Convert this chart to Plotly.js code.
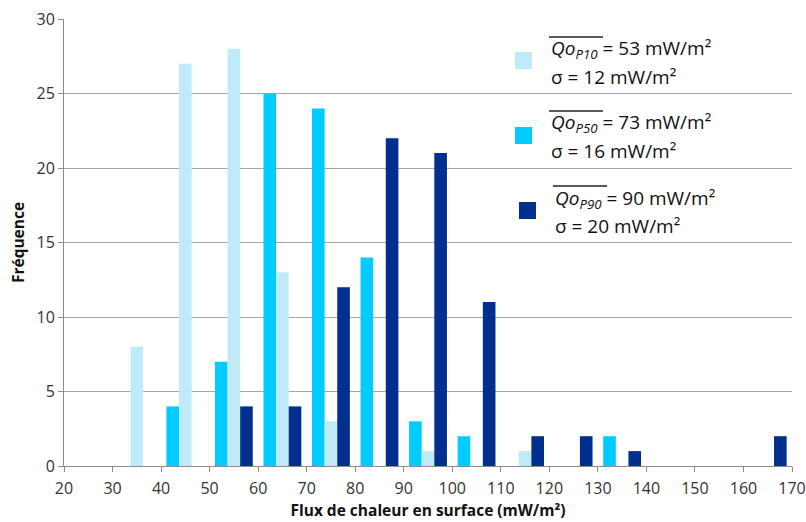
<!DOCTYPE html>
<html>
<head>
<meta charset="utf-8">
<script src="https://cdn.plot.ly/plotly-3.0.1.min.js"></script>
<style>html,body{margin:0;padding:0;background:#fff;}#chart{width:806px;height:522px;}</style>
</head>
<body>
<div id="chart"></div>
<script>
// Data
const bins = [35, 45, 55, 65, 75, 85, 95, 105, 115, 125, 135, 145, 155, 165];
const freqP10 = [8, 27, 28, 13, 3, 0, 1, 0, 1, 0, 0, 0, 0, 0];
const freqP50 = [0, 4, 7, 25, 24, 14, 3, 2, 0, 0, 2, 0, 0, 0];
const freqP90 = [0, 0, 4, 4, 12, 22, 21, 11, 2, 2, 1, 0, 0, 2];
const xTicks = [20, 30, 40, 50, 60, 70, 80, 90, 100, 110, 120, 130, 140, 150, 160, 170];
const yTicks = [0, 5, 10, 15, 20, 25, 30];
const legendEntries = [
  {sub: 'P10', mean: 53, sigma: 12},
  {sub: 'P50', mean: 73, sigma: 16},
  {sub: 'P90', mean: 90, sigma: 20}
];

const colP10 = '#BFEBF8';
const colP50 = '#00CCFF';
const colP90 = '#002F8E';

const W = 806, H = 522;
const M = {l: 64, r: 14, t: 19, b: 56};
const PW = W - M.l - M.r, PH = H - M.t - M.b;
const px = x => (x - M.l) / PW;
const py = y => (H - M.b - y) / PH;

const traces = [
  {type: 'bar', x: bins, y: freqP50, name: 'P50', marker: {color: colP50, line: {width: 0}}},
  {type: 'bar', x: bins, y: freqP10, name: 'P10', marker: {color: colP10, line: {width: 0}}},
  {type: 'bar', x: bins, y: freqP90, name: 'P90', marker: {color: colP90, line: {width: 0}}}
];

const legColors = [colP10, colP50, colP90];
const squares = [
  {x0: 515, y0: 52, size: 17},
  {x0: 515, y0: 127, size: 17},
  {x0: 519, y0: 202, size: 17}
];
const textX = [549, 549, 553];
const line1Y = [49, 123, 199];
const line2Y = [77, 151, 226];
const ovl = [[549, 603, 37], [549, 603, 111], [553, 607, 186]];

const shapes = [];
const annotations = [];
legendEntries.forEach((e, i) => {
  const s = squares[i];
  shapes.push({type: 'rect', xref: 'paper', yref: 'paper',
    x0: px(s.x0), x1: px(s.x0 + s.size), y0: py(s.y0 + s.size), y1: py(s.y0),
    fillcolor: legColors[i], line: {width: 0}});
  shapes.push({type: 'line', xref: 'paper', yref: 'paper',
    x0: px(ovl[i][0]), x1: px(ovl[i][1]), y0: py(ovl[i][2]), y1: py(ovl[i][2]),
    line: {color: '#222', width: 1.5}});
  annotations.push({xref: 'paper', yref: 'paper', x: px(textX[i]), y: py(line1Y[i]),
    xanchor: 'left', yanchor: 'middle', showarrow: false,
    text: '<i>Qo</i><sub><i>' + e.sub + '</i></sub> = ' + e.mean + ' mW/m²',
    font: {family: 'Open Sans', size: 19, color: '#111'}});
  annotations.push({xref: 'paper', yref: 'paper', x: px(textX[i]), y: py(line2Y[i]),
    xanchor: 'left', yanchor: 'middle', showarrow: false,
    text: 'σ = ' + e.sigma + ' mW/m²',
    font: {family: 'Open Sans', size: 19, color: '#111'}});
});

const layout = {
  width: W, height: H,
  margin: M,
  paper_bgcolor: '#fff', plot_bgcolor: '#fff',
  showlegend: false,
  barmode: 'group', bargap: 0.22, bargroupgap: 0,
  font: {family: 'Open Sans', color: '#404040', size: 15},
  xaxis: {
    range: [20, 170], tickvals: xTicks, ticktext: xTicks.map(String),
    showgrid: false, zeroline: false,
    showline: true, linecolor: '#8C8C8C', linewidth: 1,
    ticks: 'outside', ticklen: 5, tickcolor: '#8C8C8C',
    ticklabelstandoff: 3,
    tickfont: {size: 16, color: '#333'},
    title: {text: '<b>Flux de chaleur en surface (mW/m²)</b>', font: {size: 15.5, color: '#111'}, standoff: 6}
  },
  yaxis: {
    range: [0, 30], tickvals: yTicks, ticktext: yTicks.map(String),
    showgrid: true, gridcolor: '#A6A6A6', gridwidth: 1, zeroline: false,
    showline: true, linecolor: '#8C8C8C', linewidth: 1,
    ticks: 'outside', ticklen: 5, tickcolor: '#8C8C8C',
    tickfont: {size: 16, color: '#333'},
    title: {text: '<b>Fréquence</b>', font: {size: 15.5, color: '#111'}, standoff: 8}
  },
  shapes: shapes,
  annotations: annotations
};

Plotly.newPlot('chart', traces, layout, {displayModeBar: false, staticPlot: true});
</script>
</body>
</html>
